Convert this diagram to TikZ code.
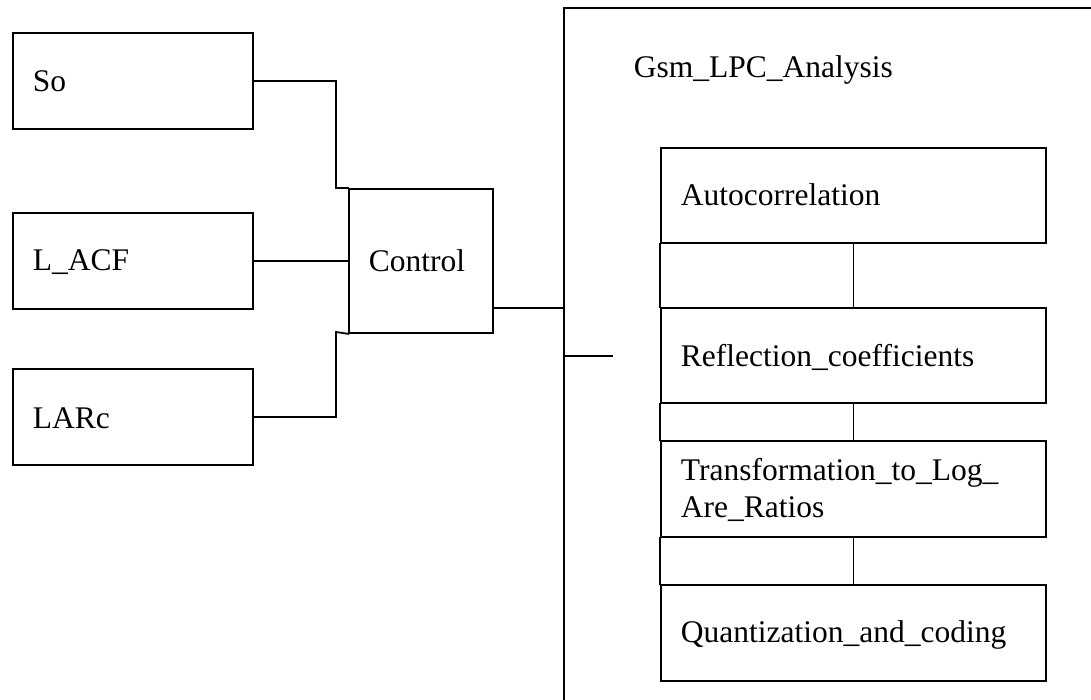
\documentclass[tikz,border=0pt]{standalone}
\usepackage{fontspec}
\setmainfont{Liberation Serif}
\begin{document}
\begin{tikzpicture}[x=1pt,y=-1pt,line width=1.8pt,
  box/.style={draw, rectangle, inner sep=0pt, anchor=north west},
  lbl/.style={anchor=base west, inner sep=0pt, font=\fontsize{31.5}{37}\selectfont},
  wire/.style={draw, line cap=rect}]
\useasboundingbox (0,0) rectangle (1091,700);

% input blocks on the left
\node[box, minimum width=240pt, minimum height=96pt] (so)   at (12,32)  {};
\node[box, minimum width=240pt, minimum height=96pt] (lacf) at (12,212) {};
\node[box, minimum width=240pt, minimum height=96pt] (larc) at (12,368) {};
\node[lbl] (soT)   at (32,92)  {So};
\node[lbl] (lacfT) at (32,271) {L\_ACF};
\node[lbl] (larcT) at (32,428) {LARc};

% control block
\node[box, minimum width=144pt, minimum height=144pt] (ctrl) at (348,188) {};
\node[lbl] (ctrlT) at (368,272) {Control};

% enclosing analysis block (runs off the right and bottom edges)
\coordinate (gtop) at (564,8);
\coordinate (gbot) at (564,700);
\coordinate (gright) at (1091,8);
\draw[line cap=rect] (gbot) -- (gtop) -- (gright);
\node[lbl] (gsmT) at (633,78) {Gsm\_LPC\_Analysis};

% stages of the analysis
\node[box, minimum width=385pt, minimum height=95pt] (auto)  at (660,147) {};
\node[box, minimum width=385pt, minimum height=95pt] (refl)  at (660,307) {};
\node[box, minimum width=385pt, minimum height=96pt] (trans) at (660,440) {};
\node[box, minimum width=385pt, minimum height=96pt] (quant) at (660,584) {};
\node[lbl] (autoT)   at (680,206) {Autocorrelation};
\node[lbl] (reflT)   at (680,366) {Reflection\_coefficients};
\node[lbl] (transT1) at (680,480) {Transformation\_to\_Log\_};
\node[lbl] (transT2) at (680,517) {Are\_Ratios};
\node[lbl] (quantT)  at (680,642) {Quantization\_and\_coding};

% links between the stages
\draw[wire] (auto.south)  -- (refl.north);
\draw[wire] (refl.south)  -- (trans.north);
\draw[wire] (trans.south) -- (quant.north);
\draw[wire] (auto.south west)  -- (refl.north west);
\draw[wire] (refl.south west)  -- (trans.north west);
\draw[wire] (trans.south west) -- (quant.north west);

% inputs into control
\draw[wire] (so.east)   -| (336,188) -- (ctrl.north west);
\draw[wire] (lacf.east) -- (lacf.east -| ctrl.west);
\draw[wire] (larc.east) -| (336,332) -- (ctrl.south west);

% control into the analysis block
\draw[wire] (ctrl.east |- 0,308) -- (gtop |- 0,308);
\coordinate (stub) at (612,356);
\draw[wire] (gtop |- stub) -- (stub);
\end{tikzpicture}
\end{document}
